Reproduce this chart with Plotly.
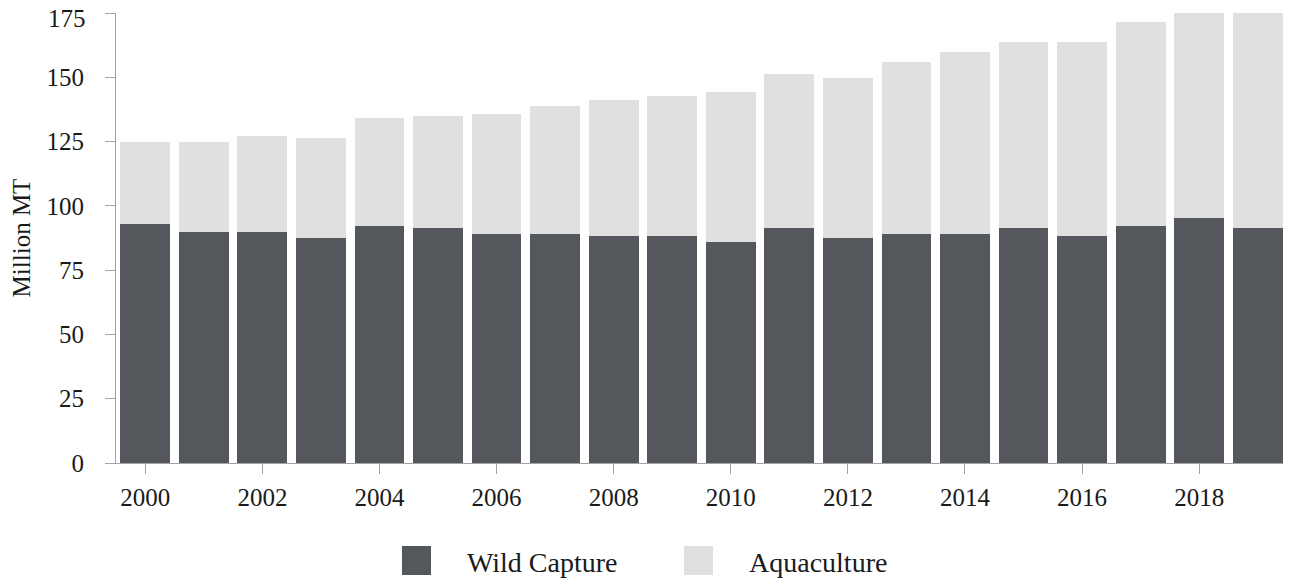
import plotly.graph_objects as go

years = list(range(2000, 2020))
wild_capture = [93.0, 89.9, 89.9, 87.5, 92.2, 91.4, 89.1, 89.1, 88.3, 88.3,
                86.0, 91.4, 87.5, 89.1, 89.1, 91.4, 88.3, 92.2, 95.3, 91.4]
aquaculture = [31.9, 35.1, 37.3, 39.0, 42.0, 43.6, 46.7, 49.8, 52.9, 54.5,
               58.4, 60.0, 62.3, 66.9, 70.8, 72.4, 75.5, 79.4, 82.5, 85.6]
series_names = ["Wild Capture", "Aquaculture"]
y_ticks = [0, 25, 50, 75, 100, 125, 150, 175]
x_ticks = [2000, 2002, 2004, 2006, 2008, 2010, 2012, 2014, 2016, 2018]

DARK = "#54575c"
LIGHT = "#e0e0e0"
AXIS = "#a3a3a3"
FONT = "Liberation Serif"
TXT = "#1a1a1a"

OFF = 8  # page body margin
W, H = 1291 - OFF, 584 - OFF
ML, MR, MT, MB = 116 - OFF, 4, 13 - OFF, 121

fig = go.Figure()
fig.add_trace(go.Bar(x=years, y=wild_capture, name=series_names[0],
                     marker=dict(color=DARK, line=dict(width=0)), showlegend=False))
fig.add_trace(go.Bar(x=years, y=aquaculture, name=series_names[1],
                     marker=dict(color=LIGHT, line=dict(width=0)), showlegend=False))

pw = W - ML - MR
ph = H - MT - MB

def px_to_paper_x(px):
    return (px - OFF - ML) / pw

def px_to_paper_y(py):
    return (H - MB - (py - OFF)) / ph

# manual legend (large square swatches), positions in screen pixels
legend_items = [(series_names[0], DARK, 402, 465), (series_names[1], LIGHT, 684, 747)]
shapes = []
annotations = []
for name, col, sx, tx in legend_items:
    shapes.append(dict(type="rect", xref="paper", yref="paper",
                       x0=px_to_paper_x(sx), x1=px_to_paper_x(sx + 29),
                       y0=px_to_paper_y(546), y1=px_to_paper_y(575),
                       fillcolor=col, line=dict(width=0)))
    annotations.append(dict(text=name, xref="paper", yref="paper",
                            x=px_to_paper_x(tx), y=px_to_paper_y(562),
                            xanchor="left", yanchor="middle", showarrow=False,
                            font=dict(family=FONT, size=28, color=TXT)))

# top y tick label: nudged down so it stays inside the canvas (as in the reference)
annotations.append(dict(text=str(y_ticks[-1]), xref="paper", yref="y",
                        x=px_to_paper_x(87), y=y_ticks[-1], yshift=-5,
                        xanchor="right", yanchor="middle", showarrow=False,
                        borderpad=0,
                        font=dict(family=FONT, size=25, color=TXT)))
y_ticktext = [str(v) for v in y_ticks[:-1]] + [""]

fig.update_layout(
    barmode="stack",
    bargap=0.15,
    width=W, height=H,
    margin=dict(l=ML, r=MR, t=MT, b=MB, pad=0, autoexpand=False),
    plot_bgcolor="white", paper_bgcolor="white",
    font=dict(family=FONT, size=25, color=TXT),
    shapes=shapes,
    annotations=annotations,
    xaxis=dict(range=[1999.5, 2019.5], tickvals=x_ticks, ticktext=[str(v) for v in x_ticks],
               automargin=False,
               showline=True, linecolor=AXIS, linewidth=1,
               ticks="outside", ticklen=10, tickcolor=AXIS, tickwidth=1,
               showgrid=False, zeroline=False, ticklabelstandoff=2,
               ticklabeloverflow="allow",
               tickfont=dict(family=FONT, size=25, color=TXT)),
    yaxis=dict(range=[0, 175], tickvals=y_ticks, ticktext=y_ticktext,
               automargin=False,
               showline=True, linecolor=AXIS, linewidth=1,
               ticks="outside", ticklen=10, tickcolor=AXIS, tickwidth=1,
               showgrid=False, zeroline=False, ticklabelstandoff=16,
               ticklabeloverflow="allow",
               title=dict(text="Million MT", standoff=18,
                          font=dict(family=FONT, size=25, color=TXT)),
               tickfont=dict(family=FONT, size=25, color=TXT)),
)

fig.write_html("out.html")
